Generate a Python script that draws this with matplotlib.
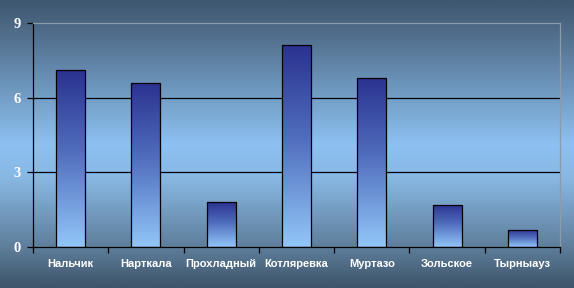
import numpy as np
import matplotlib
matplotlib.use("Agg")
import matplotlib.pyplot as plt
from matplotlib.colors import LinearSegmentedColormap

# Data
towns = ["Нальчик", "Нарткала", "Прохладный", "Котляревка",
         "Муртазо", "Зольское", "Тырныауз"]
values = [7.1, 6.6, 1.8, 8.1, 6.8, 1.7, 0.7]
y_ticks = [0, 3, 6, 9]

bg_cmap = LinearSegmentedColormap.from_list("bg", [
    (0.00, "#3f5770"),
    (0.08, "#4b6682"),
    (0.50, "#8dc1f1"),
    (0.62, "#88b7e3"),
    (0.86, "#5e7e9b"),
    (1.00, "#3e5469"),
])
bar_cmap = LinearSegmentedColormap.from_list("bar", [
    (0.0, "#2a3290"),
    (0.45, "#4f6cbc"),
    (1.0, "#92c6f8"),
])

fig = plt.figure(figsize=(5.74, 2.88), dpi=100)

# full figure gradient background
bg = fig.add_axes([0, 0, 1, 1], zorder=-10)
bg.imshow(np.linspace(0, 1, 256).reshape(-1, 1), aspect="auto",
          cmap=bg_cmap, extent=(0, 1, 0, 1))
bg.set_axis_off()

ax = fig.add_axes([0.0575, 0.1424, 0.918, 0.7776])
ax.patch.set_alpha(0)

x = np.arange(len(towns))
bars = ax.bar(x, values, width=0.385, facecolor="none",
              edgecolor="black", linewidth=0.9, zorder=3)

# gradient fill inside each bar
grad = np.linspace(0, 1, 256).reshape(-1, 1)
for rect in bars:
    x0 = rect.get_x()
    w = rect.get_width()
    h = rect.get_height()
    im = ax.imshow(grad, aspect="auto", cmap=bar_cmap,
                   extent=(x0, x0 + w, 0, h), zorder=2)
    im.set_clip_path(rect)

ax.set_xlim(-0.5, len(towns) - 0.5)
ax.set_ylim(0, 9)

for v in [3, 6]:
    ax.axhline(v, color="black", linewidth=0.9, zorder=1)

ax.spines["left"].set_color("black")
ax.spines["bottom"].set_color("black")
ax.spines["top"].set_color("#8d9aa8")
ax.spines["right"].set_color("#8d9aa8")
for s in ax.spines.values():
    s.set_linewidth(0.9)

ax.set_yticks(y_ticks)
ax.set_yticklabels([str(t) for t in y_ticks], color="white",
                   fontsize=10.5, fontweight="bold", family="Liberation Serif")
ax.tick_params(axis="y", direction="out", length=4, width=0.9,
               color="black", pad=5)

ax.set_xticks(x)
ax.set_xticklabels(towns, color="white", fontsize=8,
                   fontweight="bold", family="Liberation Sans")
ax.tick_params(axis="x", length=0, pad=9)
ax.set_xticks(np.arange(-0.5, len(towns)), minor=True)
ax.tick_params(axis="x", which="minor", direction="out", length=4,
               width=0.9, color="black")

fig.savefig("out.png", dpi=100)
